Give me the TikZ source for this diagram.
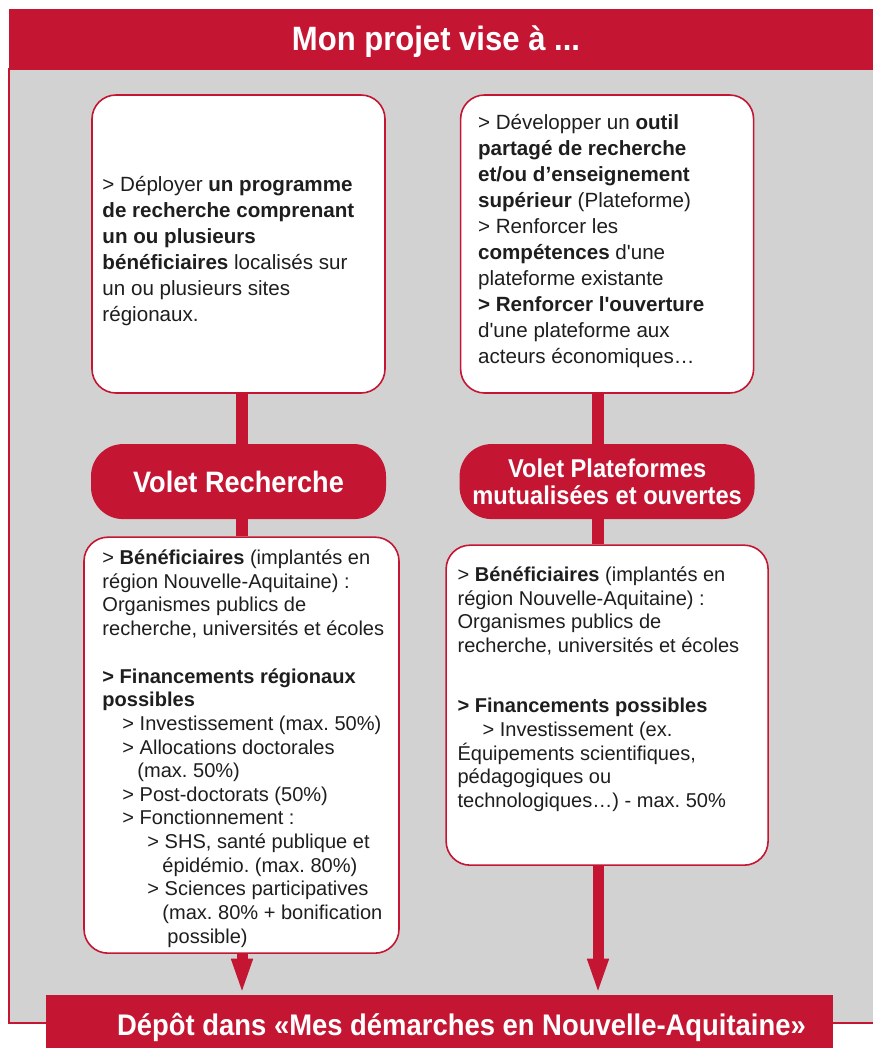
\documentclass[tikz,border=0pt]{standalone}
\usepackage{fontspec}
\setmainfont{Liberation Sans}
\newfontfamily\headfont[FakeStretch=0.92]{Liberation Sans}
\usetikzlibrary{positioning, arrows.meta, backgrounds}
\frenchspacing
\definecolor{regred}{RGB}{196,22,50}
\definecolor{panelgray}{RGB}{210,210,210}
\definecolor{ink}{RGB}{30,30,30}
\tikzset{%
  card/.style   = {draw=regred, line width=0.04cm, fill=white,
    rounded corners=0.6cm, inner sep=0},
  volet/.style  = {fill=regred, rounded corners=0.8cm, minimum width=7.375cm,
    minimum height=1.875cm, text=white, align=center},
  txt/.style    = {inner sep=0, align=left, text=ink},
  big/.style    = {font=\fontsize{14.65pt}{18.5pt}\selectfont},
  small/.style  = {font=\fontsize{14.25pt}{16.8pt}\selectfont},
  band/.style   = {fill=regred, text=white,
    font=\headfont\bfseries\fontsize{21.2pt}{23pt}\selectfont}
}
\tikzstyle{arrow} = [draw, regred, line width=0.275cm,
  -{Triangle[length=0.9cm, width=0.475cm]}]
\tikzstyle{link} = [draw, regred, line width=0.29cm]

\begin{document}
\begin{tikzpicture}
\useasboundingbox (0,0) rectangle (21.825,-26.2);

  \node [card, minimum width=7.325cm, minimum height=7.45cm] (boxA) at (5.9625,-6.1) {};
  \node [card, minimum width=7.325cm, minimum height=7.45cm, right=1.85cm of boxA] (boxB) {};

  \node [txt, big, below right=2.05cm and 0.275cm of boxA.north west] (textA)
  {> Déployer \textbf{un programme}\\
   \textbf{de recherche comprenant}\\
   \textbf{un ou plusieurs}\\
   \textbf{bénéficiaires} localisés sur\\
   un ou plusieurs sites\\
   régionaux.};

  \node [txt, big, below right=0.5cm and 0.45cm of boxB.north west] (textB)
  {> Développer un \textbf{outil}\\
   \textbf{partagé de recherche}\\
   \textbf{et/ou d’enseignement}\\
   \textbf{supérieur} (Plateforme)\\
   > Renforcer les\\
   \textbf{compétences} d\textquotesingle une\\
   plateforme existante\\
   \textbf{> Renforcer l\textquotesingle ouverture}\\
   d\textquotesingle une plateforme aux\\
   acteurs économiques…};

  \node [volet, below=1.25cm of boxA, font=\headfont\bfseries\fontsize{21pt}{22pt}\selectfont] (recherche)
  {Volet Recherche};
  \node [volet, below=1.25cm of boxB, font=\headfont\bfseries\fontsize{18.3pt}{18.8pt}\selectfont] (plateformes)
  {Volet Plateformes\\mutualisées et ouvertes};

  \node [card, minimum width=7.875cm, minimum height=10.4cm, below=0.425cm of recherche, xshift=0.075cm] (boxC) {};
  \node [card, minimum width=8.05cm, minimum height=8cm, below=0.625cm of plateformes] (boxD) {};

  \node [txt, small, below right=0.325cm and 0.475cm of boxC.north west] (textC)
  {> \textbf{Bénéficiaires} (implantés en\\
   région Nouvelle-Aquitaine) :\\
   Organismes publics de\\
   recherche, universités et écoles\\[0.61cm]
   \textbf{> Financements régionaux}\\
   \textbf{possibles}\\
   \hspace*{0.5cm}> Investissement (max. 50\%)\\
   \hspace*{0.5cm}> Allocations doctorales\\
   \hspace*{0.875cm}(max. 50\%)\\
   \hspace*{0.5cm}> Post-doctorats (50\%)\\
   \hspace*{0.5cm}> Fonctionnement :\\
   \hspace*{1.125cm}> SHS, santé publique et\\
   \hspace*{1.5cm}épidémio. (max. 80\%)\\
   \hspace*{1.125cm}> Sciences participatives\\
   \hspace*{1.5cm}(max. 80\% + bonification\\
   \hspace*{1.625cm}possible)};

  \node [txt, small, below right=0.55cm and 0.3cm of boxD.north west] (textD)
  {> \textbf{Bénéficiaires} (implantés en\\
   région Nouvelle-Aquitaine) :\\
   Organismes publics de\\
   recherche, universités et écoles\\[0.925cm]
   \textbf{> Financements possibles}\\
   \hspace*{0.625cm}> Investissement (ex.\\
   Équipements scientifiques,\\
   pédagogiques ou\\
   technologiques…) - max. 50\%};

  \node [band, minimum width=19.675cm, minimum height=1.375cm,
    text height=0.625cm, text depth=0pt] (depot) at (10.9875,-25.5625)
  {\hspace*{1.1cm}Dépôt dans «Mes démarches en Nouvelle-Aquitaine»};

  \node [anchor=base, text=white, font=\headfont\bfseries\fontsize{24pt}{26pt}\selectfont]
    (title) at (10.9,-1.2675) {Mon projet vise à ...};

  \coordinate (colL) at (6.05,0);
  \coordinate (colR) at (14.95,0);

  \draw [link] (boxA.south -| colL) -- (recherche.north -| colL);
  \draw [link] (recherche.south -| colL) -- (boxC.north -| colL);
  \draw [arrow] (boxC.south -| colL) -- (depot.north -| colL);

  \draw [link] (boxB.south -| colR) -- (plateformes.north -| colR);
  \draw [link] (plateformes.south -| colR) -- (boxD.north -| colR);
  \draw [arrow] (boxD.south -| colR) -- (depot.north -| colR);

  \begin{pgfonlayer}{background}
  \draw [regred, line width=0.04cm, fill=panelgray]
  (0.225,-1.725) rectangle (22.2,-25.575);
  \fill [regred]
  (0.225,-0.225) rectangle (22.2,-1.725);
  \end{pgfonlayer}

\end{tikzpicture}
\end{document}
